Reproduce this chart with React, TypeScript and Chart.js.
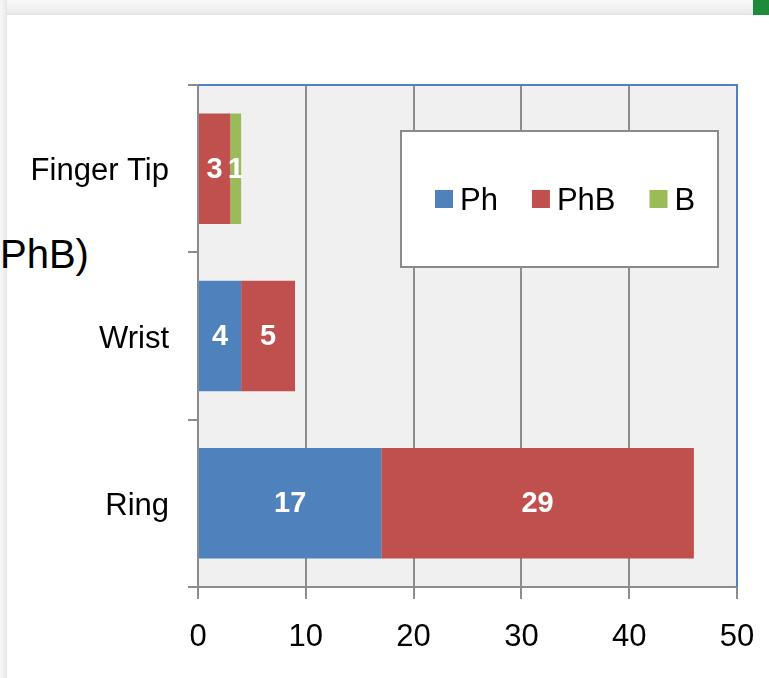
import React, { useEffect, useRef } from "react";
import { Chart, registerables } from "chart.js";

Chart.register(...registerables);

// Categories (top to bottom) and stacked series values
const categories = ["Finger Tip", "Wrist", "Ring"];
const seriesNames = ["Ph", "PhB", "B"];
const phValues = [0, 4, 17];
const phbValues = [3, 5, 29];
const bValues = [1, 0, 0];
const xTickValues = [0, 10, 20, 30, 40, 50];

const seriesColors = ["#4f81bd", "#c0504d", "#9bbb59"];
const FONT = "'Liberation Sans', Arial, Helvetica, sans-serif";
const GRID = "#8c8c8c";
const FRAME_BLUE = "#4f81bd";

const plotBackground = {
  id: "plotBackground",
  beforeDraw(chart: any) {
    const { ctx, chartArea: a } = chart;
    ctx.save();
    ctx.fillStyle = "#f0f0f0";
    ctx.fillRect(a.left, a.top, a.right - a.left, a.bottom - a.top);
    ctx.restore();
  },
};

const plotFrame = {
  id: "plotFrame",
  beforeDatasetsDraw(chart: any) {
    const { ctx, chartArea: a } = chart;
    ctx.save();
    ctx.strokeStyle = FRAME_BLUE;
    ctx.lineWidth = 2;
    ctx.beginPath();
    ctx.moveTo(a.left, a.top);
    ctx.lineTo(a.right, a.top);
    ctx.lineTo(a.right, a.bottom);
    ctx.stroke();
    ctx.restore();
  },
};

const valueLabels = {
  id: "valueLabels",
  afterDatasetsDraw(chart: any) {
    const { ctx } = chart;
    ctx.save();
    ctx.fillStyle = "#ffffff";
    ctx.font = `bold 29px ${FONT}`;
    ctx.textAlign = "center";
    ctx.textBaseline = "middle";
    chart.data.datasets.forEach((ds: any, di: number) => {
      const meta = chart.getDatasetMeta(di);
      meta.data.forEach((el: any, i: number) => {
        const v = ds.data[i];
        if (!v) return;
        const cx = (el.x + el.base) / 2;
        ctx.fillText(String(v), cx, el.y + 1);
      });
    });
    ctx.restore();
  },
};

const boxLegend = {
  id: "boxLegend",
  afterDatasetsDraw(chart: any) {
    const { ctx, chartArea: a } = chart;
    const bx = a.left + 203;
    const by = a.top + 46;
    const bw = 317;
    const bh = 136;
    ctx.save();
    ctx.fillStyle = "#ffffff";
    ctx.fillRect(bx, by, bw, bh);
    ctx.strokeStyle = "#8a8a8a";
    ctx.lineWidth = 2;
    ctx.strokeRect(bx, by, bw, bh);

    ctx.font = `31px ${FONT}`;
    ctx.textBaseline = "alphabetic";
    ctx.textAlign = "left";
    const cy = by + bh / 2;
    let x = bx + 34;
    chart.data.datasets.forEach((ds: any) => {
      ctx.fillStyle = ds.backgroundColor;
      ctx.fillRect(x, cy - 9, 18, 18);
      ctx.fillStyle = "#000000";
      ctx.fillText(ds.label, x + 25, cy + 11);
      x += 25 + ctx.measureText(ds.label).width + 34;
    });
    ctx.restore();
  },
};

function BarChart() {
  const ref = useRef<HTMLCanvasElement | null>(null);

  useEffect(() => {
    if (!ref.current) return;
    const values = [phValues, phbValues, bValues];
    const chart = new Chart(ref.current, {
      type: "bar",
      data: {
        labels: categories,
        datasets: seriesNames.map((name, i) => ({
          label: name,
          data: values[i],
          backgroundColor: seriesColors[i],
          borderWidth: 0,
          barPercentage: 0.66,
          categoryPercentage: 1,
        })),
      },
      options: {
        indexAxis: "y",
        responsive: false,
        animation: false,
        devicePixelRatio: 1,
        layout: { padding: { left: 0, top: 85, right: 32, bottom: 0 } },
        plugins: {
          legend: { display: false },
          tooltip: { enabled: false },
        },
        scales: {
          x: {
            stacked: true,
            min: 0,
            max: 50,
            afterBuildTicks(scale: any) {
              scale.ticks = xTickValues.map((v) => ({ value: v }));
            },
            afterFit(scale: any) {
              scale.height = 91;
              scale.paddingLeft = 0;
              scale.paddingRight = 0;
            },
            grid: {
              color: GRID,
              lineWidth: 2,
              tickLength: 12,
              drawOnChartArea: true,
            },
            border: { color: GRID, width: 2 },
            ticks: {
              color: "#000000",
              font: { family: FONT, size: 31 },
              padding: 20,
              maxRotation: 0,
            },
          },
          y: {
            stacked: true,
            afterFit(scale: any) {
              scale.width = 198;
            },
            grid: {
              color: GRID,
              lineWidth: 2,
              tickLength: 10,
              drawOnChartArea: false,
              offset: true,
            },
            border: { color: GRID, width: 2 },
            ticks: {
              color: "#000000",
              font: { family: FONT, size: 31 },
              padding: 19,
              labelOffset: 3,
            },
          },
        },
      },
      plugins: [plotBackground, plotFrame, valueLabels, boxLegend],
    });
    return () => chart.destroy();
  }, []);

  return (
    <canvas
      ref={ref}
      width={769}
      height={678}
      style={{ position: "absolute", left: 0, top: 0, width: 769, height: 678 }}
    />
  );
}

export default function App() {
  return (
    <div
      style={{
        position: "absolute",
        left: 0,
        top: 0,
        width: 769,
        height: 678,
        overflow: "hidden",
        background: "#ffffff",
        fontFamily: FONT,
      }}
    >
      {/* top band of the slide */}
      <div
        style={{
          position: "absolute",
          left: 0,
          top: 0,
          width: 769,
          height: 15,
          background: "linear-gradient(#f9f9f9, #ececec 85%, #dedede)",
        }}
      />
      <div
        style={{
          position: "absolute",
          left: 753,
          top: 0,
          width: 16,
          height: 15,
          background: "#1e8b3a",
        }}
      />
      {/* left edge of the slide */}
      <div
        style={{
          position: "absolute",
          left: 0,
          top: 0,
          width: 7,
          height: 678,
          background: "linear-gradient(90deg, #f7f7f7, #ebebeb 80%, #e2e2e2)",
        }}
      />
      <div
        style={{
          position: "absolute",
          left: 0,
          top: 228,
          fontSize: 40,
          lineHeight: "52px",
          color: "#000000",
          whiteSpace: "nowrap",
        }}
      >
        PhB)
      </div>
      <BarChart />
    </div>
  );
}
